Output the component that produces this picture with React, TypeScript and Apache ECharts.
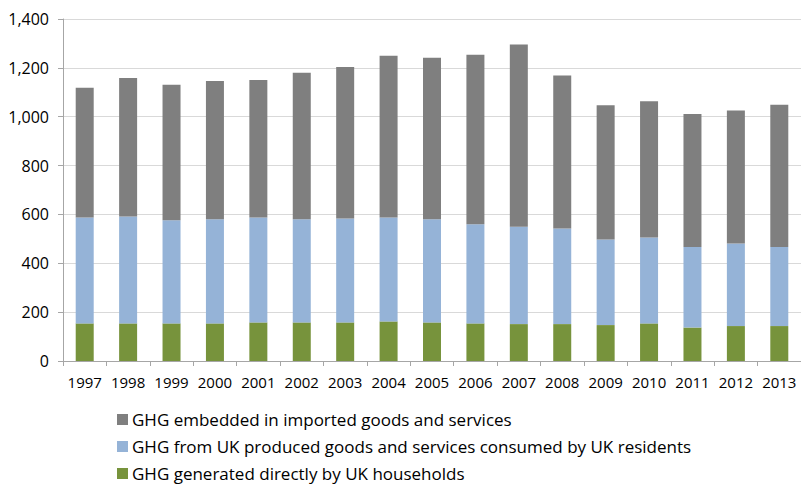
import React, { useEffect, useRef } from "react";
import * as echarts from "echarts";

const years = ["1997","1998","1999","2000","2001","2002","2003","2004","2005","2006","2007","2008","2009","2010","2011","2012","2013"];
const households = [154,154,154,154,158,158,158,162,158,154,151,151,147,154,137,143,143];
const ukProduced = [433,438,422,426,429,422,425,425,422,406,399,391,350,352,330,338,324];
const imported = [532,566,555,566,563,600,620,663,661,694,746,627,550,557,544,544,582];

const nameImported = "GHG embedded in imported goods and services";
const nameUk = "GHG from UK produced goods and services consumed by UK residents";
const nameHouse = "GHG generated directly by UK households";
const legendOrder = [nameImported, nameUk, nameHouse];

const FONT = "'Open Sans', sans-serif";

export default function App() {
  const ref = useRef<HTMLDivElement>(null);
  useEffect(() => {
    if (!ref.current) return;
    const chart = echarts.init(ref.current, null, { renderer: "svg" });
    chart.setOption({
      animation: false,
      textStyle: { fontFamily: FONT },
      grid: { left: 63, top: 19, width: 744, height: 342, containLabel: false },
      legend: legendOrder.map((n, i) => ({
        orient: "horizontal",
        left: 117,
        top: 411 + i * 27,
        padding: 0,
        itemWidth: 11,
        itemHeight: 11,
        itemGap: 0,
        icon: "rect",
        data: [n],
        textStyle: { fontFamily: FONT, fontSize: 17, color: "#000", padding: [0, 0, 0, -1] },
      })),
      xAxis: {
        type: "category",
        data: years,
        axisLine: { lineStyle: { color: "#a6a6a6", width: 1 } },
        axisTick: { show: true, length: 5, lineStyle: { color: "#a6a6a6" } },
        axisLabel: { fontFamily: FONT, fontSize: 15, color: "#000", margin: 13, interval: 0, hideOverlap: false },
      },
      yAxis: {
        type: "value",
        min: 0,
        max: 1400,
        interval: 200,
        axisLine: { show: true, lineStyle: { color: "#a6a6a6", width: 1 } },
        axisTick: { show: true, length: 5, lineStyle: { color: "#a6a6a6" } },
        splitLine: { lineStyle: { color: "#d9d9d9", width: 1 } },
        axisLabel: {
          fontFamily: FONT,
          fontSize: 16,
          color: "#000",
          margin: 14,
          formatter: (v: number) => v.toLocaleString("en-US"),
        },
      },
      series: [
        { name: nameHouse, type: "bar", stack: "total", data: households, barWidth: 18, itemStyle: { color: "#77933c" } },
        { name: nameUk, type: "bar", stack: "total", data: ukProduced, barWidth: 18, itemStyle: { color: "#95b3d7" } },
        { name: nameImported, type: "bar", stack: "total", data: imported, barWidth: 18, itemStyle: { color: "#7f7f7f" } },
      ],
    });
    return () => chart.dispose();
  }, []);
  return <div ref={ref} style={{ position: "fixed", left: 0, top: 0, width: 801, height: 485, background: "#fff" }} />;
}
